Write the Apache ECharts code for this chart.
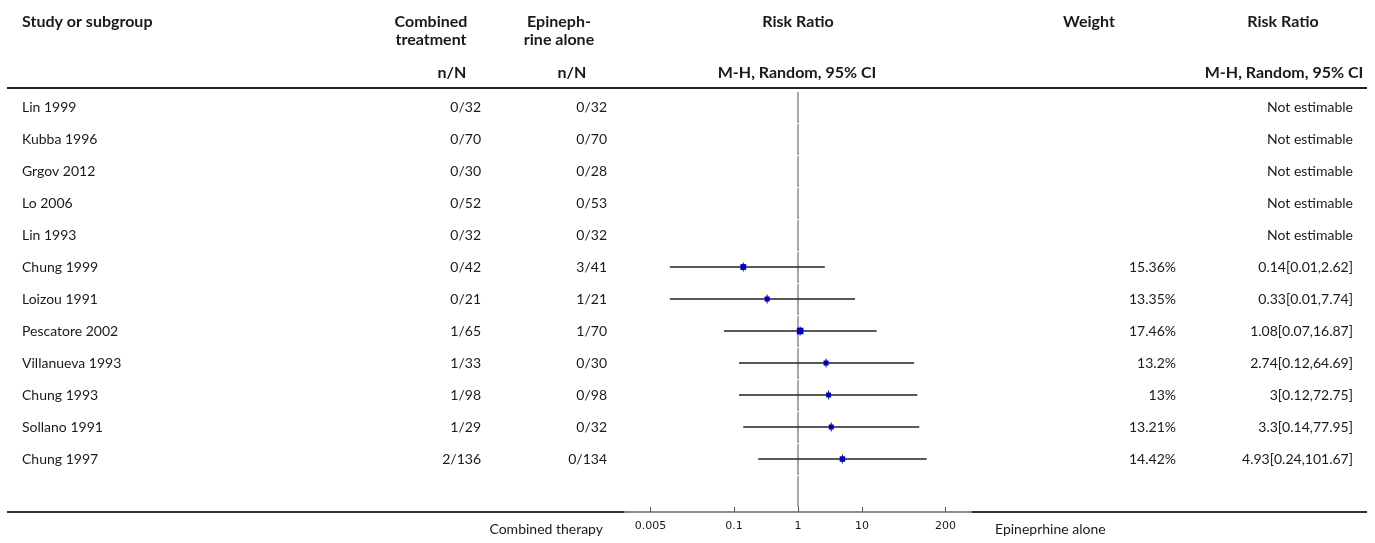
<!DOCTYPE html>
<html>
<head>
<meta charset="utf-8">
<script src="https://cdn.jsdelivr.net/npm/echarts@6/dist/echarts.min.js"></script>
<style>
  html, body { margin: 0; padding: 0; background: #fff; }
  #chart { width: 1375px; height: 543px; }
</style>
</head>
<body>
<div id="chart"></div>
<script>
// Studies comparing combined treatment with epinephrine alone
const studies = ['Lin 1999', 'Kubba 1996', 'Grgov 2012', 'Lo 2006', 'Lin 1993', 'Chung 1999',
  'Loizou 1991', 'Pescatore 2002', 'Villanueva 1993', 'Chung 1993', 'Sollano 1991', 'Chung 1997'];
const combinedEvents = [0, 0, 0, 0, 0, 0, 0, 1, 1, 1, 1, 2];
const combinedTotal = [32, 70, 30, 52, 32, 42, 21, 65, 33, 98, 29, 136];
const epiEvents = [0, 0, 0, 0, 0, 3, 1, 1, 0, 0, 0, 0];
const epiTotal = [32, 70, 28, 53, 32, 41, 21, 70, 30, 98, 32, 134];
const riskRatio = [null, null, null, null, null, 0.14, 0.33, 1.08, 2.74, 3, 3.3, 4.93];
const ciLower = [null, null, null, null, null, 0.01, 0.01, 0.07, 0.12, 0.12, 0.14, 0.24];
const ciUpper = [null, null, null, null, null, 2.62, 7.74, 16.87, 64.69, 72.75, 77.95, 101.67];
const weights = [null, null, null, null, null, 15.36, 13.35, 17.46, 13.2, 13, 13.21, 14.42];
const axisTickValues = [0.005, 0.1, 1, 10, 200];
const axisRange = [0.002, 500];

const FONT = 'Lato';
const TEXT = '#1a1a1a';
const rowIdx = studies.map((_, i) => i);
// one extra slot below the last study keeps the null line running to the axis
const lineRows = studies.map((_, i) => i).concat([studies.length]);

const chart = echarts.init(document.getElementById('chart'), null, { renderer: 'canvas' });

function headText(x, y, text, align) {
  return {
    type: 'text', x: x, y: y,
    style: { text: text, font: 'bold 16px ' + FONT, fill: TEXT, align: align, verticalAlign: 'middle', lineHeight: 18 }
  };
}
function plainText(x, y, text, align, size) {
  return {
    type: 'text', x: x, y: y,
    style: { text: text, font: (size || 14) + 'px ' + FONT, fill: TEXT, align: align, verticalAlign: 'middle' }
  };
}

const option = {
  animation: false,
  backgroundColor: '#fff',
  grid: { left: 625, right: 404, top: 91, bottom: 31, containLabel: false },
  xAxis: {
    type: 'log', logBase: 10, min: axisRange[0], max: axisRange[1],
    position: 'bottom',
    axisLine: { show: true, onZero: false, lineStyle: { color: '#8c8c8c', width: 2 } },
    axisTick: { show: true, inside: true, length: 5, customValues: axisTickValues, lineStyle: { color: '#555', width: 1 } },
    axisLabel: {
      customValues: axisTickValues, margin: 9, color: TEXT, fontFamily: 'DejaVu Sans', fontSize: 11,
      formatter: v => String(v)
    },
    splitLine: { show: false }
  },
  yAxis: {
    type: 'value', min: -0.5, max: 12.656, inverse: true, show: false
  },
  graphic: [
    headText(22, 22, 'Study or subgroup', 'left'),
    headText(431, 31, 'Combined\ntreatment', 'center'),
    headText(559, 31, 'Epineph-\nrine alone', 'center'),
    headText(452, 73, 'n/N', 'center'),
    headText(572, 73, 'n/N', 'center'),
    headText(798, 22, 'Risk Ratio', 'center'),
    headText(797, 73, 'M-H, Random, 95% CI', 'center'),
    headText(1089, 22, 'Weight', 'center'),
    headText(1283, 22, 'Risk Ratio', 'center'),
    headText(1284, 73, 'M-H, Random, 95% CI', 'center'),
    { type: 'line', shape: { x1: 7, y1: 88, x2: 1367, y2: 88 }, style: { stroke: '#222', lineWidth: 2 } },
    { type: 'line', shape: { x1: 7, y1: 512, x2: 625, y2: 512 }, style: { stroke: '#333', lineWidth: 2 } },
    { type: 'line', shape: { x1: 971, y1: 512, x2: 1367, y2: 512 }, style: { stroke: '#333', lineWidth: 2 } },
    plainText(603, 529, 'Combined therapy', 'right', 14),
    plainText(995, 529, 'Epineprhine alone', 'left', 14)
  ],
  series: [
    {
      // line of no effect, one segment per row
      type: 'custom', name: 'null line', clip: true, silent: true,
      data: lineRows,
      renderItem: function (params, api) {
        const r = api.value(0);
        const x = api.coord([1, r])[0];
        const yTop = api.coord([1, r - 0.5])[1] + 1;
        const yBot = api.coord([1, r + 0.5])[1];
        return {
          type: 'line',
          shape: { x1: x, y1: yTop, x2: x, y2: yBot },
          style: { stroke: '#a8a8a8', lineWidth: 2 }
        };
      },
      encode: { y: 0 }
    },
    {
      // confidence intervals and point estimates
      type: 'custom', name: 'studies', clip: false, silent: true,
      data: rowIdx.filter(i => riskRatio[i] !== null).map(i => [i, riskRatio[i], ciLower[i], ciUpper[i], weights[i]]),
      renderItem: function (params, api) {
        const r = api.value(0);
        const pt = api.coord([api.value(1), r]);
        const lo = api.coord([api.value(2), r]);
        const hi = api.coord([api.value(3), r]);
        const s = api.value(4) * 0.38;
        return {
          type: 'group',
          children: [
            { type: 'line', shape: { x1: lo[0], y1: pt[1], x2: hi[0], y2: pt[1] }, style: { stroke: '#222', lineWidth: 1.5 } },
            { type: 'line', shape: { x1: pt[0], y1: pt[1] - 4.5, x2: pt[0], y2: pt[1] + 4.5 }, style: { stroke: '#222', lineWidth: 1 } },
            { type: 'rect', shape: { x: pt[0] - s / 2, y: pt[1] - s / 2, width: s, height: s }, style: { fill: '#0000c8' } }
          ]
        };
      },
      encode: { x: 1, y: 0 }
    },
    {
      // table columns beside the plot
      type: 'custom', name: 'table', clip: false, silent: true,
      data: rowIdx,
      renderItem: function (params, api) {
        const i = api.value(0);
        const y = api.coord([1, i])[1];
        const rrText = riskRatio[i] === null ? 'Not estimable'
          : riskRatio[i] + '[' + ciLower[i] + ',' + ciUpper[i] + ']';
        const kids = [
          plainText(22, y, studies[i], 'left'),
          plainText(481, y, combinedEvents[i] + '/' + combinedTotal[i], 'right'),
          plainText(607, y, epiEvents[i] + '/' + epiTotal[i], 'right'),
          plainText(1353, y, rrText, 'right')
        ];
        if (weights[i] !== null) kids.push(plainText(1176, y, weights[i] + '%', 'right'));
        return { type: 'group', children: kids };
      },
      encode: { y: 0 }
    }
  ]
};
chart.setOption(option);
</script>
</body>
</html>
